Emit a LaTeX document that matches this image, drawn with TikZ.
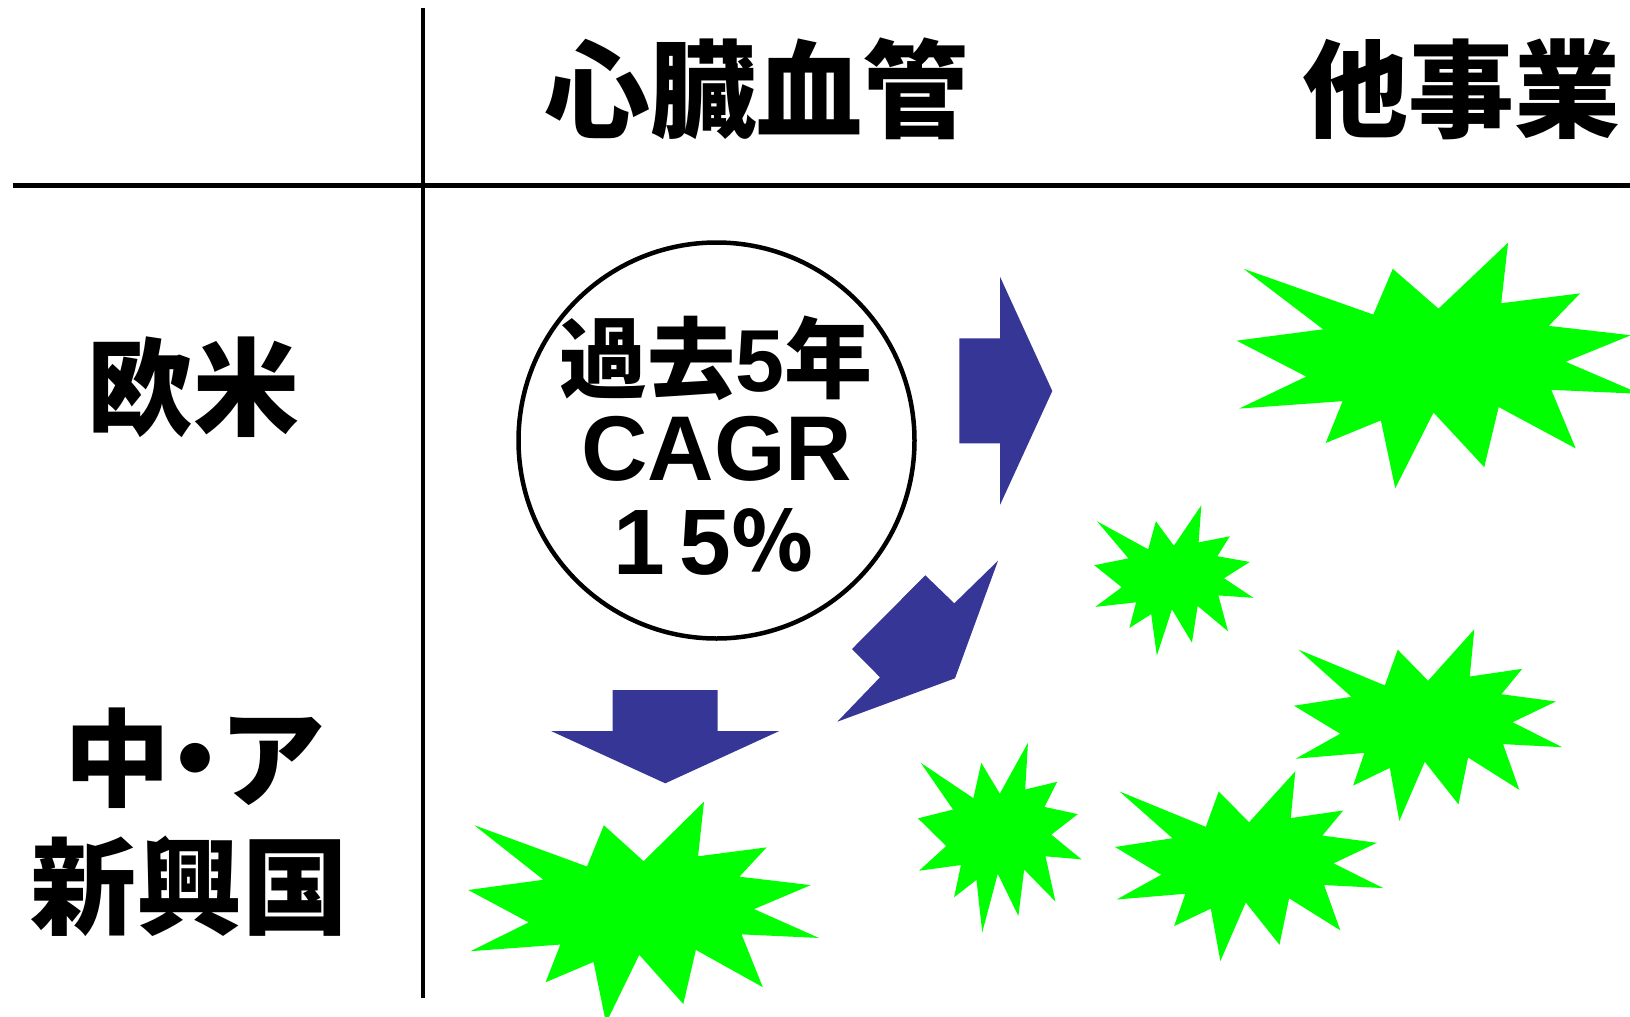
\documentclass[tikz,border=0pt]{standalone}
\usepackage{fontspec}
\newfontfamily\jp{Noto Sans CJK JP}
\newfontfamily\lat{Liberation Sans}
\definecolor{sealgreen}{RGB}{0,255,0}
\definecolor{arrowblue}{RGB}{54,54,150}
\tikzset{
  head/.style={font=\jp\bfseries\fontsize{106}{110}\selectfont, inner sep=0pt, anchor=center},
  circtext/.style={inner sep=0pt, anchor=center},
  digit/.style={font=\lat\bfseries\fontsize{93}{96}\selectfont, inner sep=0pt, anchor=base},
  blockarrow/.style={fill=arrowblue, draw=none},
  grid/.style={line width=4pt, black},
  ring/.style={draw=black, line width=4.5pt, fill=white, circle, minimum size=396pt, inner sep=0pt}
}
\newcommand\sealshape[4]{%
  \begin{scope}[shift={(#1,#2)}, xscale=#3/100, yscale=#4/100]
    \fill[sealgreen] (50,26.85) -- (67.23,0) -- (65.53,24.65) -- (85.09,20.63) -- (77.32,33.87)
      -- (97.67,37.67) -- (81.51,48.50) -- (100,61.53) -- (77.95,59.92) -- (84.00,83.77)
      -- (64.91,66.93) -- (61.33,91.38) -- (48.76,69.14) -- (39.28,100) -- (35.72,72.35)
      -- (22.05,81.56) -- (26.24,64.52) -- (0.63,67.53) -- (17.23,54.51) -- (0,39.88)
      -- (21.42,35.26) -- (1.71,10.63) -- (33.85,29.26) -- (38.67,10.63) -- cycle;
  \end{scope}}
\begin{document}
\begin{tikzpicture}[x=1pt,y=-1pt]
\useasboundingbox (0,0) rectangle (1630,1017);
\clip (0,0) rectangle (1630,1017);
% grid lines
\coordinate (vtop) at (423,8);
\coordinate (vbot) at (423,998);
\coordinate (hl) at (12.5,185);
\coordinate (hr) at (1630,185);
\draw[grid] (vtop) -- (vbot);
\draw[grid, line width=5pt] (hl) -- (hr);
% headers
\node[head] (h1) at (756,89) {心臓血管};
\node[head] (h2) at (1461.6,89) {他事業};
\node[head] (r1) at (193,387) {欧米};
\node[head] (r2) at (195,758.4) {中\kern-28.5pt・\kern-28.5pt ア};
\node[head] (r3) at (189.7,886.5) {新興国};
% circle
\node[ring] (c) at (716.5,440.5) {};
\node[circtext] (t1) at (716,358.3) {\jp\bfseries\fontsize{88}{92}\selectfont 過去{\lat\bfseries 5}年};
\node[circtext] (t2) at (716.8,449.2) {\lat\bfseries\fontsize{92}{96}\selectfont CAGR};
\node[digit] (t3a) at (639,574) {1};
\node[digit] (t3b) at (705.8,574) {5};
\node[circtext, font=\jp\bfseries\fontsize{82}{86}\selectfont] (t3c) at (772,540.5) {％};
% arrows
\fill[blockarrow] (1000,276.7) -- (1000,338.3) -- (959.3,338.3) -- (959.3,443.3) -- (1000,443.3) -- (1000,505) -- (1052.3,391) -- cycle;
\fill[blockarrow] (998,560.7) -- (954.3,603.3) -- (925.3,575.3) -- (852,649) -- (880,677.3) -- (837.3,721.7) -- (955,678.3) -- cycle;
\fill[blockarrow] (612.7,690) -- (717.7,690) -- (717.7,731) -- (779.3,731) -- (665.3,783.3) -- (551,731) -- (612.7,731) -- cycle;
% seals
\sealshape{1236.7}{242.7}{403.6}{245.6}
\sealshape{468.3}{801.7}{350.6}{221.4}
\sealshape{1094.3}{505.3}{159.2}{150.4}
\sealshape{918}{742.7}{163.6}{189.6}
\sealshape{1115}{771.3}{268.2}{189.8}
\sealshape{1294}{629.3}{268.2}{191.6}
\end{tikzpicture}
\end{document}
